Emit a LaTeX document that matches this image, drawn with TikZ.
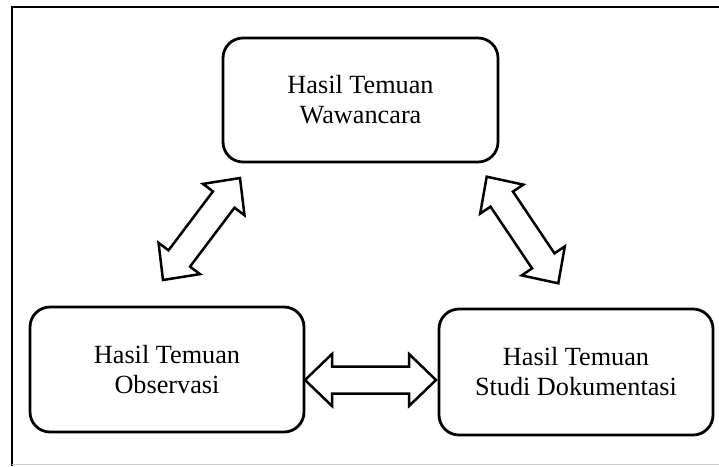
\documentclass[tikz,border=0pt]{standalone}
\usepackage{fontspec}
\setmainfont{Liberation Serif}
\usetikzlibrary{calc}
\newcommand\arrHL{27pt}
\newcommand\arrHW{26pt}
\newcommand\arrSW{13.5pt}
\newcommand\blockarrow[2]{%
  \coordinate (hA) at ($(#1)!\arrHL!(#2)$);
  \coordinate (hB) at ($(#2)!\arrHL!(#1)$);
  \draw[arr] (#1) -- ($(hA)!\arrHW!90:(#2)$) -- ($(hA)!\arrSW!90:(#2)$)
    -- ($(hB)!\arrSW!-90:(#1)$) -- ($(hB)!\arrHW!-90:(#1)$) -- (#2)
    -- ($(hB)!\arrHW!90:(#1)$) -- ($(hB)!\arrSW!90:(#1)$)
    -- ($(hA)!\arrSW!-90:(#2)$) -- ($(hA)!\arrHW!-90:(#2)$) -- cycle;}
\begin{document}
\begin{tikzpicture}[x=1pt,y=-1pt,
  box/.style={draw, line width=2.8pt, rounded corners=20pt, inner sep=0pt,
    align=center, font=\fontsize{26.25}{30}\selectfont},
  arr/.style={draw, fill=white, line width=2.5pt, line join=miter}]
\useasboundingbox (0,0) rectangle (719,466);
% outer frame
\draw[line width=2pt] (12,466) -- (12,7) -- (719,7);
\draw[line width=1pt, black!20] (12,464) -- (719,464);
% boxes
\node[box, minimum width=275pt, minimum height=124pt] (w) at (360.5,100) {Hasil Temuan\\Wawancara};
\node[box, minimum width=274pt, minimum height=125pt] (o) at (167,369.5) {Hasil Temuan\\Observasi};
\node[box, minimum width=274pt, minimum height=126pt] (s) at (576,372) {Hasil Temuan\\Studi Dokumentasi};
% arrow tips
\coordinate (l1) at (163,280);
\coordinate (l2) at (240,178);
\coordinate (r1) at (486.7,176.7);
\coordinate (r2) at (558.3,283.3);
\coordinate (h1) at (305,380);
\coordinate (h2) at (436,380);
\blockarrow{l1}{l2}
\blockarrow{r1}{r2}
\blockarrow{h1}{h2}
\end{tikzpicture}
\end{document}
